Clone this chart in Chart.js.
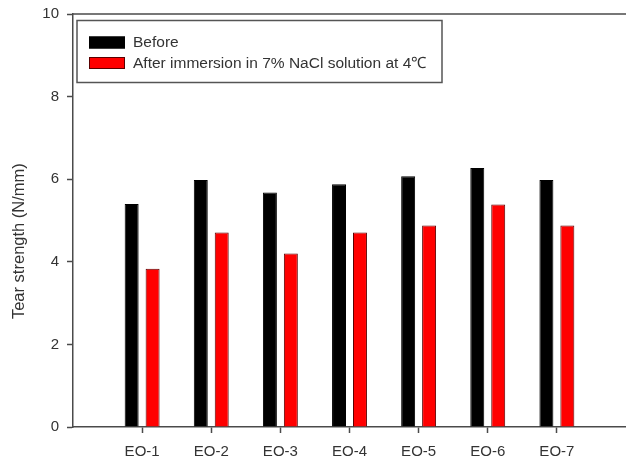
<!DOCTYPE html>
<html>
<head>
<meta charset="utf-8">
<script src="https://cdn.jsdelivr.net/npm/chart.js@4/dist/chart.umd.min.js"></script>
<style>
  html, body { margin: 0; padding: 0; background: #fff; }
  #wrap { width: 626px; height: 463px; position: relative; }
</style>
</head>
<body>
<div id="wrap"><canvas id="c" width="626" height="463"></canvas></div>
<script>
const categories = ['EO-1', 'EO-2', 'EO-3', 'EO-4', 'EO-5', 'EO-6', 'EO-7'];
const beforeValues = [5.40, 5.98, 5.68, 5.88, 6.07, 6.27, 5.98];
const afterValues = [3.83, 4.71, 4.20, 4.71, 4.88, 5.39, 4.88];
const seriesLabels = ['Before', 'After immersion in 7% NaCl solution at 4\u2103'];
const yTicks = [0, 2, 4, 6, 8, 10];
const yTitle = 'Tear strength (N/mm)';

const FONT = 'Liberation Sans, Arial, Helvetica, sans-serif';
const AXIS_COLOR = '#4a4a4a';
const TEXT_COLOR = '#333333';

const boxFramePlugin = {
  id: 'boxFrame',
  afterDraw(chart) {
    const { ctx, chartArea } = chart;
    ctx.save();
    // top frame line
    ctx.strokeStyle = AXIS_COLOR;
    ctx.lineWidth = 1.5;
    ctx.beginPath();
    ctx.moveTo(chartArea.left, chartArea.top);
    ctx.lineTo(chartArea.right, chartArea.top);
    ctx.stroke();

    // legend box inside plot area
    const bx = 77, by = 20.5, bw = 365, bh = 62;
    ctx.fillStyle = '#ffffff';
    ctx.fillRect(bx, by, bw, bh);
    ctx.strokeStyle = '#555555';
    ctx.lineWidth = 1.5;
    ctx.strokeRect(bx, by, bw, bh);
    ctx.font = '15.5px ' + FONT;
    ctx.textBaseline = 'middle';
    ctx.textAlign = 'left';
    chart.data.datasets.forEach((ds, i) => {
      const sy = by + 16 + i * 20.5;
      ctx.fillStyle = ds.backgroundColor;
      ctx.fillRect(bx + 12, sy, 36, 12);
      ctx.strokeStyle = ds.borderColor;
      ctx.lineWidth = 1;
      ctx.strokeRect(bx + 12.5, sy + 0.5, 35, 11);
      ctx.fillStyle = TEXT_COLOR;
      ctx.fillText(ds.label, bx + 56, sy + 6.5);
    });
    ctx.restore();
  }
};

new Chart(document.getElementById('c'), {
  type: 'bar',
  data: {
    datasets: [
      {
        label: seriesLabels[0],
        data: beforeValues.map((v, i) => ({ x: i + 1, y: v })),
        backgroundColor: '#000000',
        borderColor: '#000000',
        borderWidth: 1
      },
      {
        label: seriesLabels[1],
        data: afterValues.map((v, i) => ({ x: i + 1, y: v })),
        backgroundColor: '#ff0000',
        borderColor: '#5a0000',
        borderWidth: 1
      }
    ]
  },
  options: {
    responsive: false,
    animation: false,
    devicePixelRatio: 1,
    categoryPercentage: 0.606,
    barPercentage: 0.667,
    layout: { padding: { left: 0, right: 0, top: 14, bottom: 0 } },
    plugins: {
      legend: { display: false },
      tooltip: { enabled: false }
    },
    scales: {
      x: {
        type: 'linear',
        min: 0,
        max: 8,
        offset: false,
        afterBuildTicks(scale) {
          scale.ticks = categories.map((c, i) => ({ value: i + 1 }));
        },
        afterFit(scale) { scale.height = 36; scale.paddingLeft = 0; scale.paddingRight = 0; },
        grid: {
          offset: false,
          display: true,
          drawOnChartArea: false,
          drawTicks: true,
          tickLength: 6,
          tickColor: AXIS_COLOR,
          tickWidth: 1.5
        },
        border: { display: true, color: AXIS_COLOR, width: 1.5 },
        ticks: {
          autoSkip: false,
          maxRotation: 0,
          padding: 10,
          color: TEXT_COLOR,
          font: { family: FONT, size: 15 },
          callback: (v) => categories[v - 1] ?? ''
        }
      },
      y: {
        type: 'linear',
        min: 0,
        max: 10,
        afterBuildTicks(scale) {
          scale.ticks = yTicks.map(v => ({ value: v }));
        },
        afterFit(scale) { scale.width = 73; scale.paddingTop = 0; scale.paddingBottom = 0; },
        grid: {
          display: true,
          drawOnChartArea: false,
          drawTicks: true,
          tickLength: 6,
          tickColor: AXIS_COLOR,
          tickWidth: 1.5
        },
        border: { display: true, color: AXIS_COLOR, width: 1.5 },
        ticks: {
          padding: 8,
          color: TEXT_COLOR,
          font: { family: FONT, size: 15 }
        },
        title: {
          display: true,
          text: yTitle + '         ',
          color: TEXT_COLOR,
          font: { family: FONT, size: 16.5 },
          padding: { top: 10, bottom: 0 }
        }
      }
    }
  },
  plugins: [boxFramePlugin]
});
</script>
</body>
</html>
